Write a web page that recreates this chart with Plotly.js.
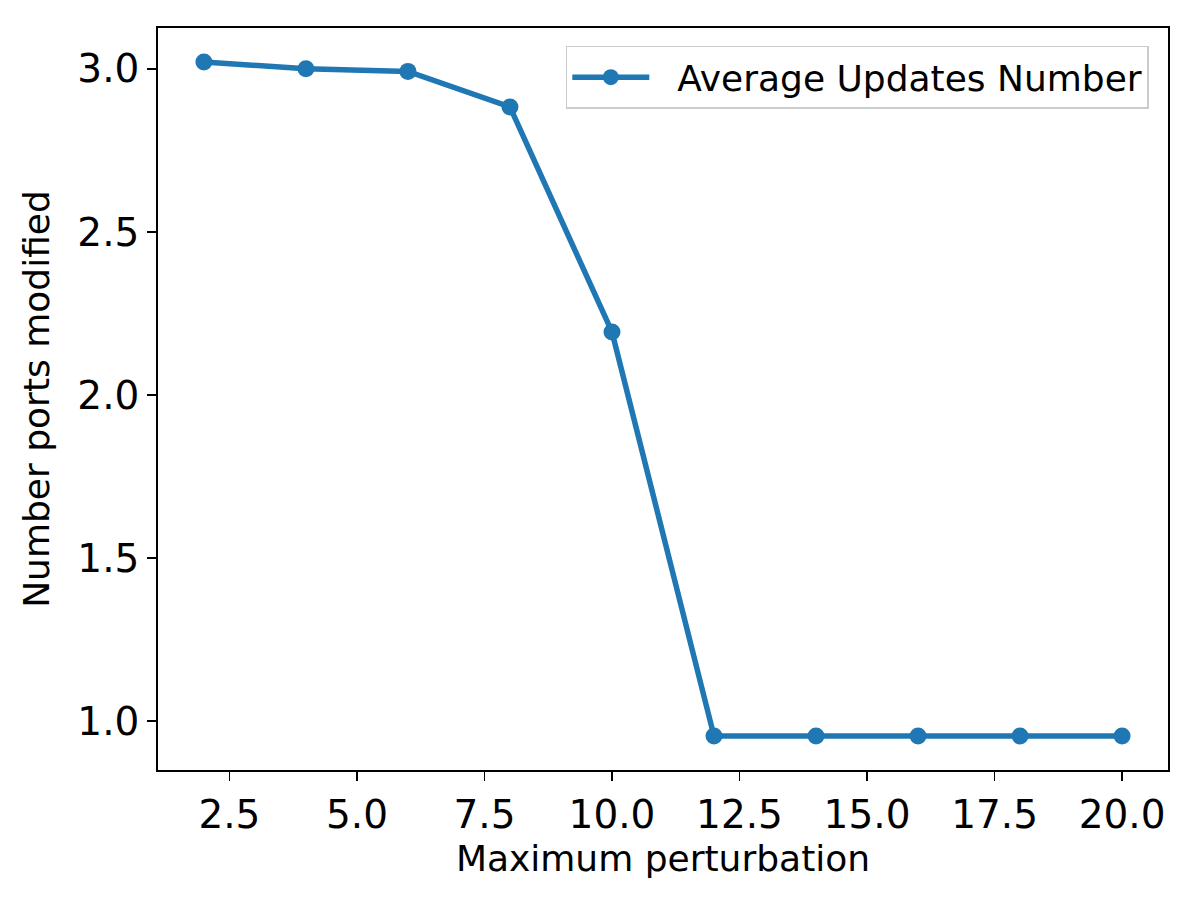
<!DOCTYPE html>
<html>
<head>
<meta charset="utf-8">
<script src="https://cdn.plot.ly/plotly-3.0.1.min.js"></script>
<style>body{margin:0;background:#fff;} #chart{width:1200px;height:900px;}</style>
</head>
<body>
<div id="chart"></div>
<script>
const perturbation = [2, 4, 6, 8, 10, 12, 14, 16, 18, 20];
const avgUpdates = [3.021, 3.0, 2.992, 2.883, 2.193, 0.954, 0.954, 0.954, 0.954, 0.954];
const seriesName = "Average Updates Number";
const xTickVals = [2.5, 5.0, 7.5, 10.0, 12.5, 15.0, 17.5, 20.0];
const yTickVals = [1.0, 1.5, 2.0, 2.5, 3.0];

const trace = {
  x: perturbation, y: avgUpdates, name: '\u00a0\u00a0' + seriesName,
  type: 'scatter', mode: 'lines+markers',
  line: {color: '#1f77b4', width: 5.5},
  marker: {color: '#1f77b4', size: 17},
  showlegend: true
};
const font = "DejaVu Sans, sans-serif";
const layout = {
  width: 1200, height: 900,
  paper_bgcolor: '#fff', plot_bgcolor: '#fff',
  margin: {l: 158, r: 32, t: 28, b: 130},
  font: {family: font, color: '#000'},
  xaxis: {
    range: [1.1, 20.9], tickvals: xTickVals, ticktext: xTickVals.map(v => v.toFixed(1)),
    showgrid: false, zeroline: false, showline: true, mirror: true, linecolor: '#000', linewidth: 1.8,
    ticks: 'outside', ticklen: 9, tickwidth: 1.8, tickcolor: '#000',
    tickfont: {size: 39, family: font},
    title: {text: 'Maximum perturbation', font: {size: 36, family: font}, standoff: 10}
  },
  yaxis: {
    range: [0.85, 3.125], tickvals: yTickVals, ticktext: yTickVals.map(v => v.toFixed(1)),
    showgrid: false, zeroline: false, showline: true, mirror: true, linecolor: '#000', linewidth: 1.8,
    ticks: 'outside', ticklen: 9, tickwidth: 1.8, tickcolor: '#000',
    tickfont: {size: 39, family: font},
    title: {text: 'Number ports modified', font: {size: 36, family: font}, standoff: 17}
  },
  legend: {
    x: 0.981, y: 0.976, xanchor: 'right', yanchor: 'top',
    bgcolor: 'rgba(255,255,255,0.8)', bordercolor: '#ccc', borderwidth: 1.5,
    font: {size: 36, family: font}, itemwidth: 77
  }
};
Plotly.newPlot('chart', [trace], layout, {displayModeBar: false, staticPlot: true});
</script>
</body>
</html>
